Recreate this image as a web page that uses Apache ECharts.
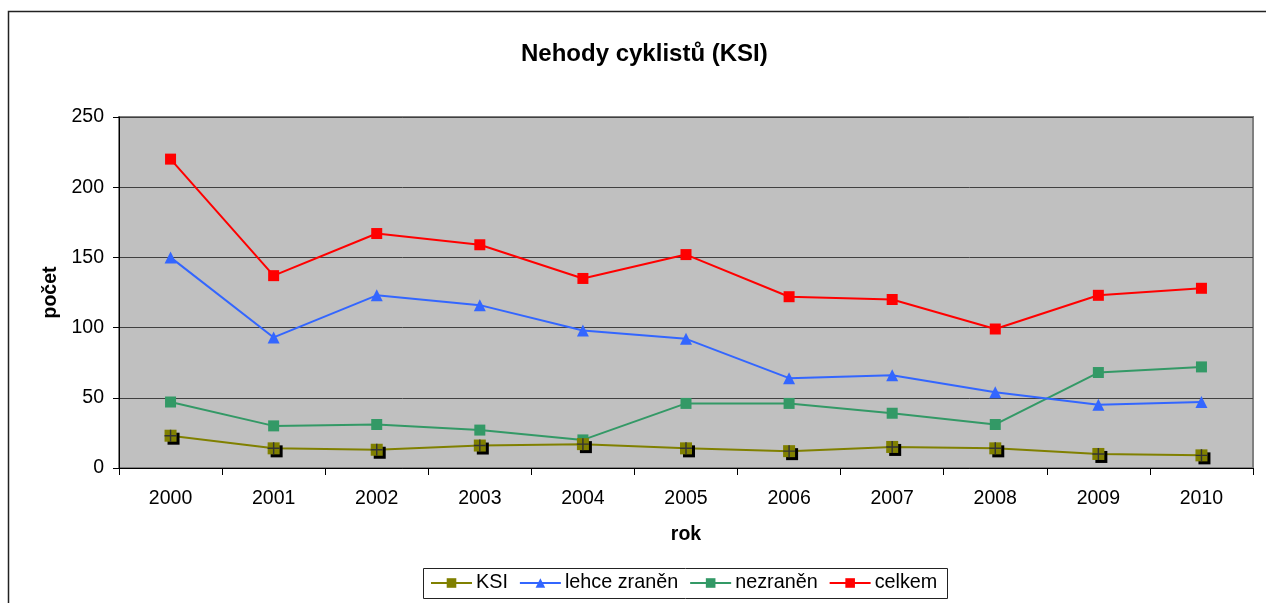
<!DOCTYPE html>
<html><head><meta charset="utf-8">
<script src="https://cdn.jsdelivr.net/npm/echarts@6/dist/echarts.min.js"></script>
<style>html,body{margin:0;padding:0;background:#fff}#c{width:1266px;height:603px}</style>
</head><body><div id="c"></div>
<script>
const years = ['2000','2001','2002','2003','2004','2005','2006','2007','2008','2009','2010'];
const ksi = [23,14,13,16,17,14,12,15,14,10,9];
const lehce = [150,93,123,116,98,92,64,66,54,45,47];
const nezranen = [47,30,31,27,20,46,46,39,31,68,72];
const celkem = [220,137,167,159,135,152,122,120,99,123,128];
const yTicks = [0,50,100,150,200,250];

const font = 'Liberation Sans, Arial, sans-serif';
const fs = 19.5;
const chart = echarts.init(document.getElementById('c'));
const plusPath = 'path://M4.4,0 L5.6,0 L5.6,4.4 L10,4.4 L10,5.6 L5.6,5.6 L5.6,10 L4.4,10 L4.4,5.6 L0,5.6 L0,4.4 L4.4,4.4 Z';
chart.setOption({
  animation:false,
  title:{text:'Nehody cyklistů (KSI)', left:516, top:37, textStyle:{fontFamily:font, fontSize:24, fontWeight:'bold', color:'#000'}},
  graphic:[
    {type:'rect', shape:{x:8.5,y:11.5,width:1300,height:700}, style:{fill:null, stroke:'#222', lineWidth:1.5}, z:-10},
    {type:'rect', shape:{x:119,y:117,width:1134,height:351}, style:{fill:'#c0c0c0', stroke:'#808080', lineWidth:2}, z:-5},
    {type:'rect', shape:{x:423.5,y:568.5,width:524,height:30}, style:{fill:'#fff', stroke:'#222', lineWidth:1}, z:-1}
  ],
  legend:{
    data:['KSI','lehce zraněn','nezraněn','celkem'],
    left:430, top:573, itemWidth:41, itemHeight:12, itemGap:11, padding:0,
    textStyle:{fontFamily:font, fontSize:19.8, color:'#000', padding:[0,0,0,-1]}
  },
  grid:{left:119, top:117, width:1134, height:351},
  xAxis:{
    type:'category', data:years, boundaryGap:true,
    name:'rok', nameLocation:'middle', nameGap:57,
    nameTextStyle:{fontFamily:font, fontSize:fs, fontWeight:'bold', color:'#000'},
    axisLine:{lineStyle:{color:'#000', width:1}},
    axisTick:{show:true, inside:false, length:7, alignWithLabel:false, lineStyle:{color:'#000'}},
    axisLabel:{fontFamily:font, fontSize:fs, color:'#000', margin:21}
  },
  yAxis:{
    type:'value', min:0, max:250, interval:50,
    name:'počet', nameLocation:'middle', nameGap:55,
    nameTextStyle:{fontFamily:font, fontSize:fs, fontWeight:'bold', color:'#000'},
    axisLine:{show:true, lineStyle:{color:'#000', width:1}},
    axisTick:{show:true, length:6, lineStyle:{color:'#000'}},
    axisLabel:{fontFamily:font, fontSize:fs, color:'#000', margin:15, formatter:v=>yTicks.includes(v)?String(v):''},
    splitLine:{show:true, lineStyle:{color:'#404040', width:1}}
  },
  series:[
    {name:'KSI', type:'line', data:ksi, symbol:'rect', symbolSize:12,
     lineStyle:{color:'#808000', width:2}, itemStyle:{color:'#808000', shadowColor:'#000', shadowOffsetX:3, shadowOffsetY:3, shadowBlur:0}, z:5},
    {name:'KSIplus', type:'line', data:ksi, symbol:plusPath, symbolSize:12,
     lineStyle:{width:0, opacity:0}, itemStyle:{color:'#333'}, z:6, tooltip:{show:false}},
    {name:'lehce zraněn', type:'line', data:lehce, symbol:'triangle', symbolSize:12,
     lineStyle:{color:'#3366ff', width:2}, itemStyle:{color:'#3366ff'}, z:4},
    {name:'nezraněn', type:'line', data:nezranen, symbol:'rect', symbolSize:11,
     lineStyle:{color:'#339966', width:2}, itemStyle:{color:'#339966'}, z:3},
    {name:'celkem', type:'line', data:celkem, symbol:'rect', symbolSize:11,
     lineStyle:{color:'#ff0000', width:2}, itemStyle:{color:'#ff0000'}, z:2}
  ]
});
</script></body></html>
